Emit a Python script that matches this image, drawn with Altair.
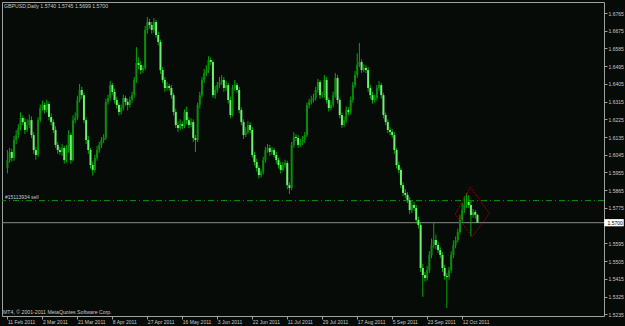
import altair as alt
import pandas as pd

# ---------------- data (GBPUSD daily, values in 1/10000) ----------------
opens = [
    15978,16018,16059,16029,16120,16145,16181,16232,16211,16171,
    16196,16221,16145,16069,16044,16221,16282,16298,16272,16303,
    16237,16211,16171,16095,16069,16059,16079,16018,16069,16145,
    16018,16221,16232,16323,16374,16348,16221,16120,16069,15993,
    15968,16029,16069,16095,16120,16130,16313,16333,16399,16364,
    16323,16298,16262,16282,16333,16313,16298,16323,16348,16425,
    16511,16501,16475,16486,16679,16719,16704,16679,16719,16653,
    16618,16475,16425,16384,16394,16384,16348,16262,16196,16181,
    16201,16191,16262,16221,16196,16211,16130,16120,16298,16348,
    16425,16460,16475,16526,16516,16348,16374,16399,16414,16425,
    16384,16399,16323,16247,16384,16399,16374,16272,16211,16145,
    16161,16196,16171,16044,16008,15978,15942,15957,16018,16069,
    16079,16059,16069,16044,16018,15993,15968,15993,16003,15891,
    15876,16095,16135,16130,16095,16110,16120,16145,16298,16313,
    16323,16333,16374,16414,16348,16348,16425,16323,16282,16298,
    16348,16435,16323,16247,16196,16221,16272,16262,16323,16399,
    16450,16501,16516,16475,16486,16475,16384,16348,16323,16333,
    16384,16399,16348,16247,16211,16171,16161,16145,16069,15993,
    15968,15891,15851,15841,15815,15764,15790,15775,15714,15688,
    15470,15434,15419,15460,15536,15587,15612,15587,15561,15536,
    15470,15429,15424,15460,15536,15587,15612,15653,15714,15764,
    15790,15805,15790,15739,15754,15740,
]
highs = [
    16069,16080,16075,16140,16170,16200,16260,16245,16230,16225,
    16250,16240,16160,16085,16235,16300,16320,16310,16325,16315,
    16255,16225,16190,16110,16085,16100,16090,16095,16170,16155,
    16245,16260,16345,16405,16390,16360,16235,16140,16080,16010,
    16045,16090,16110,16135,16150,16330,16350,16420,16410,16380,
    16340,16310,16300,16350,16345,16330,16340,16365,16440,16592,
    16540,16520,16500,16700,16745,16735,16720,16740,16730,16670,
    16630,16490,16440,16415,16405,16400,16360,16280,16215,16225,
    16215,16275,16290,16235,16230,16225,16145,16310,16365,16440,
    16480,16500,16545,16540,16525,16395,16415,16440,16450,16440,
    16420,16410,16340,16400,16425,16410,16390,16285,16225,16185,
    16215,16210,16185,16060,16025,15990,15970,16035,16085,16100,
    16095,16085,16080,16060,16030,16010,16010,16020,16015,15905,
    16110,16160,16150,16145,16125,16140,16160,16310,16330,16345,
    16355,16390,16430,16425,16365,16450,16440,16335,16320,16365,
    16460,16450,16335,16260,16240,16290,16285,16340,16415,16470,
    16560,16613,16530,16505,16500,16490,16400,16365,16350,16400,
    16420,16410,16360,16260,16225,16185,16175,16160,16080,16010,
    15980,15905,15870,15855,15830,15815,15805,15790,15730,15700,
    15490,15450,15480,15555,15620,15700,15640,15605,15575,15550,
    15485,15445,15475,15555,15610,15630,15670,15740,15800,15835,
    15850,15840,15810,15770,15765,15745,
]
lows = [
    15950,16005,16010,16015,16100,16130,16170,16195,16150,16160,
    16180,16130,16050,16020,16035,16210,16270,16255,16260,16220,
    16195,16155,16080,16050,16045,16040,16000,16005,16055,16000,
    16010,16205,16220,16310,16330,16205,16100,16050,15975,15940,
    15955,16015,16055,16080,16105,16120,16300,16320,16350,16305,
    16280,16245,16250,16270,16295,16270,16285,16310,16335,16410,
    16480,16455,16460,16475,16660,16685,16660,16665,16640,16600,
    16455,16410,16365,16370,16370,16330,16245,16180,16160,16170,
    16175,16180,16200,16180,16185,16110,16059,16110,16280,16335,
    16410,16445,16460,16500,16335,16330,16360,16385,16400,16365,
    16370,16305,16230,16240,16370,16360,16255,16195,16125,16135,
    16150,16155,16030,15990,15960,15925,15930,15945,16005,16055,
    16040,16045,16030,16000,15975,15950,15960,15980,15870,15846,
    15865,16080,16115,16080,16085,16095,16105,16135,16280,16300,
    16310,16320,16360,16330,16335,16335,16305,16265,16270,16285,
    16335,16305,16230,16180,16185,16210,16245,16250,16310,16385,
    16435,16490,16460,16465,16460,16365,16330,16305,16310,16320,
    16370,16330,16230,16195,16155,16145,16130,16050,15975,15950,
    15875,15835,15825,15800,15745,15750,15760,15695,15670,15450,
    15323,15400,15405,15445,15520,15570,15565,15545,15520,15450,
    15410,15267,15410,15445,15520,15570,15600,15640,15700,15750,
    15775,15775,15630,15725,15720,15699,
]
closes = [
    16018,16059,16029,16120,16145,16181,16232,16211,16171,16196,
    16221,16145,16069,16044,16221,16282,16298,16272,16303,16237,
    16211,16171,16095,16069,16059,16079,16018,16069,16145,16018,
    16221,16232,16323,16374,16348,16221,16120,16069,15993,15968,
    16029,16069,16095,16120,16130,16313,16333,16399,16364,16323,
    16298,16262,16282,16333,16313,16298,16323,16348,16425,16511,
    16501,16475,16486,16679,16719,16704,16679,16719,16653,16618,
    16475,16425,16384,16394,16384,16348,16262,16196,16181,16201,
    16191,16262,16221,16196,16211,16130,16120,16298,16348,16425,
    16460,16475,16526,16516,16348,16374,16399,16414,16425,16384,
    16399,16323,16247,16384,16399,16374,16272,16211,16145,16161,
    16196,16171,16044,16008,15978,15942,15957,16018,16069,16079,
    16059,16069,16044,16018,15993,15968,15993,16003,15891,15876,
    16095,16135,16130,16095,16110,16120,16145,16298,16313,16323,
    16333,16374,16414,16348,16348,16425,16323,16282,16298,16348,
    16435,16323,16247,16196,16221,16272,16262,16323,16399,16450,
    16501,16516,16475,16486,16475,16384,16348,16323,16333,16384,
    16399,16348,16247,16211,16171,16161,16145,16069,15993,15968,
    15891,15851,15841,15815,15764,15790,15775,15714,15688,15470,
    15434,15419,15460,15536,15587,15612,15587,15561,15536,15470,
    15429,15424,15460,15536,15587,15612,15653,15714,15764,15790,
    15805,15790,15739,15754,15740,15700,
]

date_labels = ["11 Feb 2011", "2 Mar 2011", "21 Mar 2011", "8 Apr 2011",
               "27 Apr 2011", "16 May 2011", "3 Jun 2011", "22 Jun 2011",
               "11 Jul 2011", "29 Jul 2011", "17 Aug 2011", "5 Sep 2011",
               "23 Sep 2011", "12 Oct 2011"]
label_bars = [0, 16, 32, 48, 64, 80, 96, 112, 128, 144, 160, 176, 192, 208]
# 1.5685 sits under the current-price box in the reference, so it is left out
price_ticks = [1.6765, 1.6675, 1.6585, 1.6495, 1.6405, 1.6315, 1.6225, 1.6135,
               1.6045, 1.5955, 1.5865, 1.5775, 1.5595, 1.5505, 1.5415,
               1.5325, 1.5235]

symbol_title = "GBPUSD,Daily  1.5740 1.5745 1.5699 1.5700"
copyright_text = "MT4, \u00a9 2001-2011 MetaQuotes Software Corp."
order_label = "#15113934 sell"
order_price = 1.5812
bid_price = 1.5700

diamond_bar = [211.8, 220.5, 212.7, 204.8, 211.8]
diamond_price = [1.5880, 1.5748, 1.5629, 1.5743, 1.5880]

# ---------------- build ----------------
df = pd.DataFrame({
    "bar": list(range(len(closes))),
    "open": [v / 10000 for v in opens],
    "high": [v / 10000 for v in highs],
    "low": [v / 10000 for v in lows],
    "close": [v / 10000 for v in closes],
})
dia = pd.DataFrame({"bar": diamond_bar, "price": diamond_price,
                    "k": list(range(len(diamond_bar)))})

BG = "#060b08"
TXT = "#c8c8c8"
FONT = "Liberation Sans"

xscale = alt.Scale(domain=[-0.2, 270.6], nice=False, zero=False)
yscale = alt.Scale(domain=[1.522615, 1.682087], nice=False, zero=False)

label_expr = "[" + ",".join("'%s'" % d for d in date_labels) + "][round(datum.value/16)]"

xaxis = alt.Axis(values=label_bars, labelExpr=label_expr, title=None, domain=False,
                 grid=False, ticks=True, tickSize=3, tickColor="#a0a0a0",
                 labelAlign="left", labelBaseline="top", labelPadding=0, labelFont=FONT,
                 labelFontSize=5, labelColor=TXT, labelOverlap=False, labelFlush=False,
                 labelBound=False, orient="bottom")
yaxis = alt.Axis(values=price_ticks, format=".4f", title=None, domain=False, grid=False,
                 ticks=True, tickSize=3, tickColor="#a0a0a0", labelPadding=1,
                 labelFont=FONT, labelFontSize=5, labelColor=TXT, labelOverlap=False,
                 labelFlush=False, labelBound=False, orient="right")

X = lambda f: alt.X(f, scale=xscale, axis=xaxis)
Y = lambda f: alt.Y(f, scale=yscale, axis=yaxis)

base = alt.Chart(df)

wicks = base.mark_rule(color="#00aa00", strokeWidth=1, clip=True).encode(
    x=X("bar:Q"), y=Y("low:Q"), y2="high:Q",
)

bodies = base.mark_bar(size=2.0, clip=True).encode(
    x=X("bar:Q"), y=Y("open:Q"), y2="close:Q",
    color=alt.condition("datum.close >= datum.open", alt.value("#0c8c0c"), alt.value("#70f070")),
)

order_line = alt.Chart(pd.DataFrame({"p": [order_price]})).mark_rule(
    color="#00a000", strokeWidth=1, strokeDash=[6, 3, 1, 3]
).encode(y=Y("p:Q"))

order_text = alt.Chart(pd.DataFrame({"p": [order_price], "t": [order_label]})).mark_text(
    align="left", baseline="middle", font=FONT, fontSize=5, color=TXT, dy=-4
).encode(x=alt.value(3), y=Y("p:Q"), text="t:N")

bid_line = alt.Chart(pd.DataFrame({"p": [bid_price]})).mark_rule(
    color="#8a8a8a", strokeWidth=1
).encode(y=Y("p:Q"))

diamond = alt.Chart(dia).mark_line(color="#c00000", strokeWidth=1, strokeDash=[1, 1]).encode(
    x=X("bar:Q"), y=Y("price:Q"), order="k:Q",
)

title_text = alt.Chart(pd.DataFrame({"t": [symbol_title]})).mark_text(
    align="left", baseline="middle", font=FONT, fontSize=5.2, color=TXT
).encode(x=alt.value(2), y=alt.value(3.5), text="t:N")

copy_text = alt.Chart(pd.DataFrame({"t": [copyright_text]})).mark_text(
    align="left", baseline="middle", font=FONT, fontSize=5.2, color=TXT
).encode(x=alt.value(1), y=alt.value(310), text="t:N")

box_df = pd.DataFrame({"p": [bid_price], "t": ["%.4f" % bid_price]})
price_box = alt.Chart(box_df).mark_point(
    shape="M-1,-0.37L1,-0.37L1,0.37L-1,0.37Z", filled=True, fill="#ffffff",
    opacity=1, size=380, clip=False
).encode(x=alt.value(612), y=Y("p:Q"))
price_box_text = alt.Chart(box_df).mark_text(
    align="left", baseline="middle", font=FONT, fontSize=5, color="#000000"
).encode(x=alt.value(605.5), y=Y("p:Q"), text="t:N")

chart = alt.layer(
    order_line, bid_line, wicks, bodies, diamond, order_text, title_text, copy_text,
    price_box, price_box_text
).properties(
    width=602, height=314,
    autosize=alt.AutoSizeParams(type="none"),
    padding={"left": 2, "top": 2, "right": 21, "bottom": 10},
    background=BG,
).configure_view(stroke="#a0a0a0", strokeWidth=1, fill=BG)

chart.save("out.html", embed_options={"renderer": "svg", "actions": False})
